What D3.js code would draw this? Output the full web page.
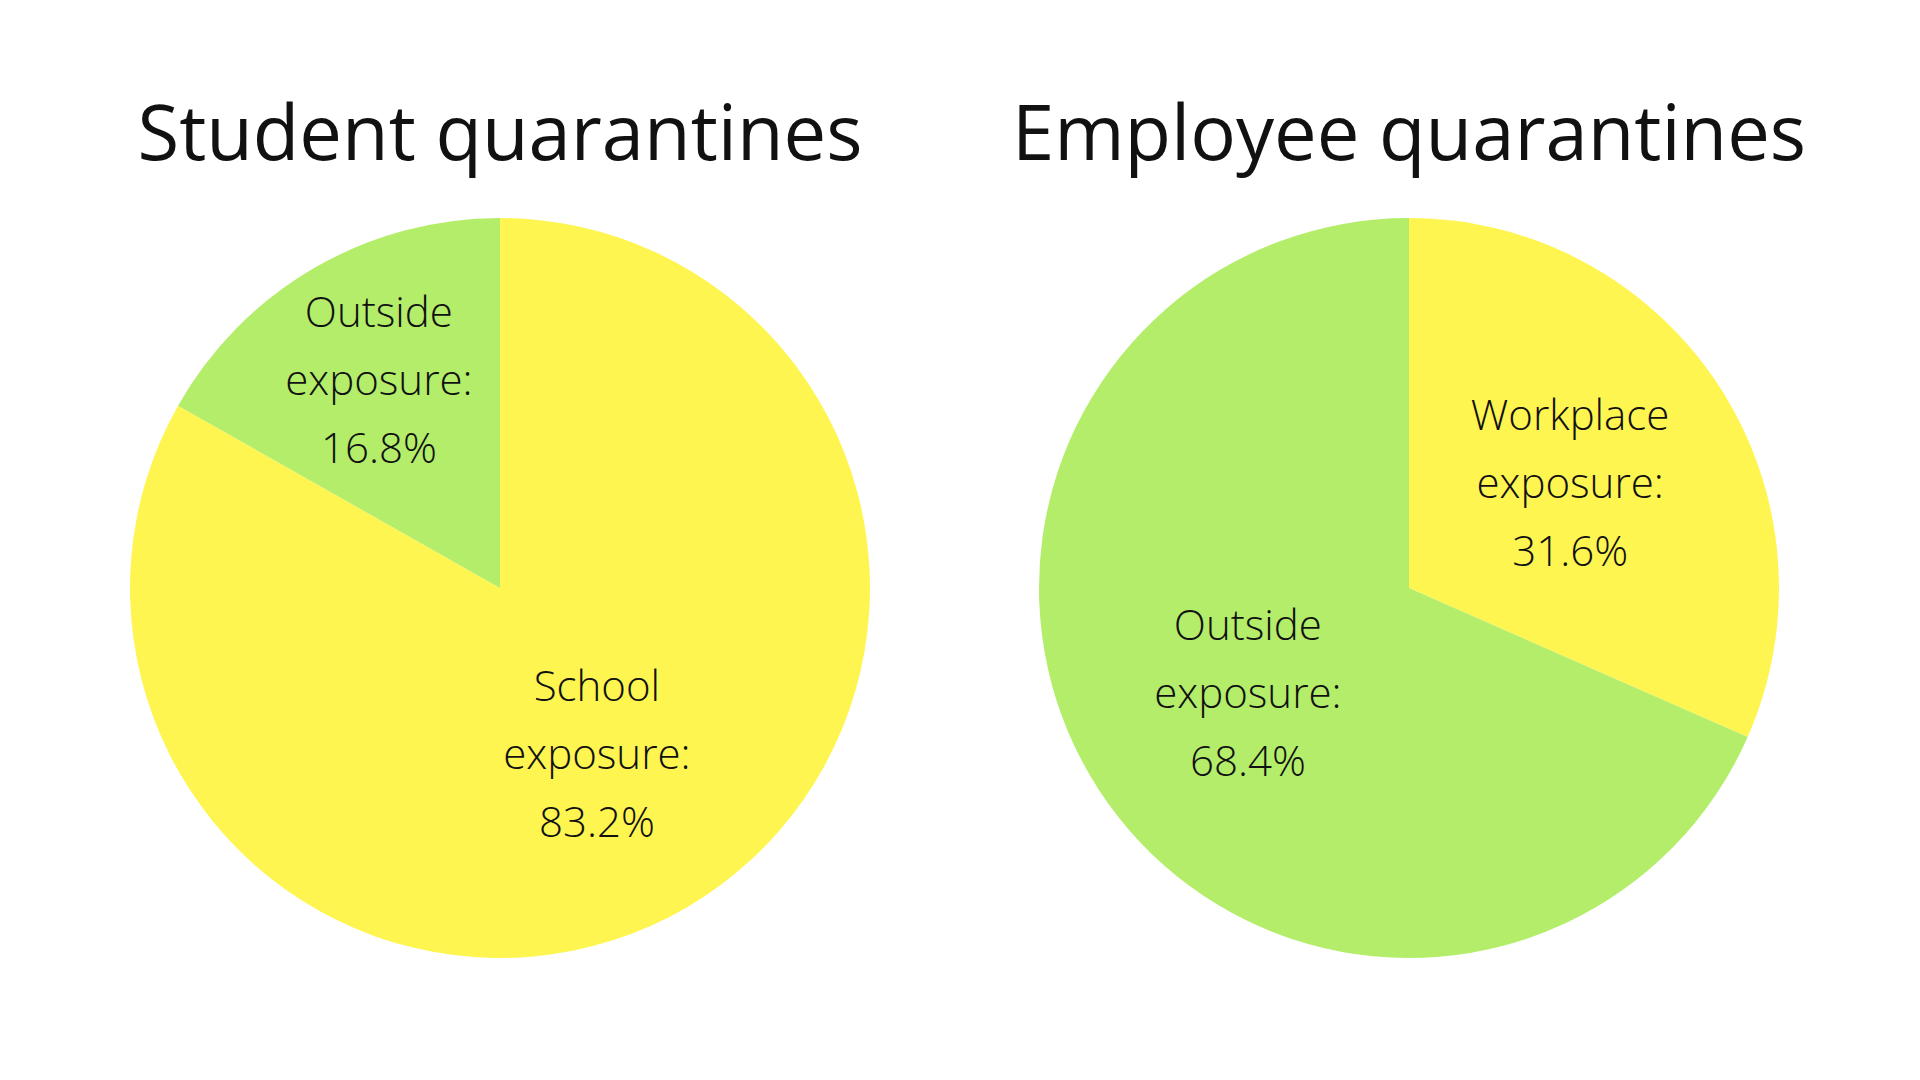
<!DOCTYPE html>
<html>
<head>
<meta charset="utf-8">
<script src="https://cdn.jsdelivr.net/npm/d3@7"></script>
<style>
  body { margin: 0; background: white; }
  text { font-family: "Open Sans", sans-serif; }
</style>
</head>
<body>
<script>
const width = 1920;
const height = 1080;

const chartTitles = ["Student quarantines", "Employee quarantines"];
const studentLabels = ["School exposure:", "Outside exposure:"];
const studentValues = [83.2, 16.8];
const employeeLabels = ["Workplace exposure:", "Outside exposure:"];
const employeeValues = [31.6, 68.4];

const yellow = "#fef551";
const green = "#b3ed6a";
const colors = [yellow, green];

const radius = 370;
const centers = [{ x: 500, y: 588 }, { x: 1409, y: 588 }];

const svg = d3.select("body")
  .append("svg")
  .attr("width", width)
  .attr("height", height);

svg.append("rect")
  .attr("width", width)
  .attr("height", height)
  .attr("fill", "white");

const pie = d3.pie().sort(null).value(d => d.value);
const arc = d3.arc().innerRadius(0).outerRadius(radius);

function drawPie(i, labels, values) {
  const c = centers[i];
  const data = labels.map((l, j) => ({ label: l, value: values[j], color: colors[j] }));
  const g = svg.append("g").attr("transform", `translate(${c.x},${c.y})`);

  svg.append("text")
    .attr("x", c.x)
    .attr("y", 160)
    .attr("text-anchor", "middle")
    .attr("font-size", 76)
    .attr("fill", "#111")
    .text(chartTitles[i]);

  const arcs = pie(data);
  g.selectAll("path")
    .data(arcs)
    .enter()
    .append("path")
    .attr("d", arc)
    .attr("fill", d => d.data.color);

  arcs.forEach(d => {
    const share = d.data.value / 100;
    const r = radius * (share < 0.2 ? 0.65 : 0.52);
    const a = (d.startAngle + d.endAngle) / 2;
    const x = Math.sin(a) * r;
    const y = -Math.cos(a) * r;
    const words = d.data.label.split(" ");
    const lines = [words[0], words[1], d.data.value.toFixed(1) + "%"];
    const t = g.append("text")
      .attr("text-anchor", "middle")
      .attr("font-size", 42)
      .attr("font-weight", 300)
      .attr("fill", "#111");
    lines.forEach((ln, k) => {
      t.append("tspan")
        .attr("x", x)
        .attr("y", y + (k - 1) * 68 + 15)
        .text(ln);
    });
  });
}

drawPie(0, studentLabels, studentValues);
drawPie(1, employeeLabels, employeeValues);
</script>
</body>
</html>
